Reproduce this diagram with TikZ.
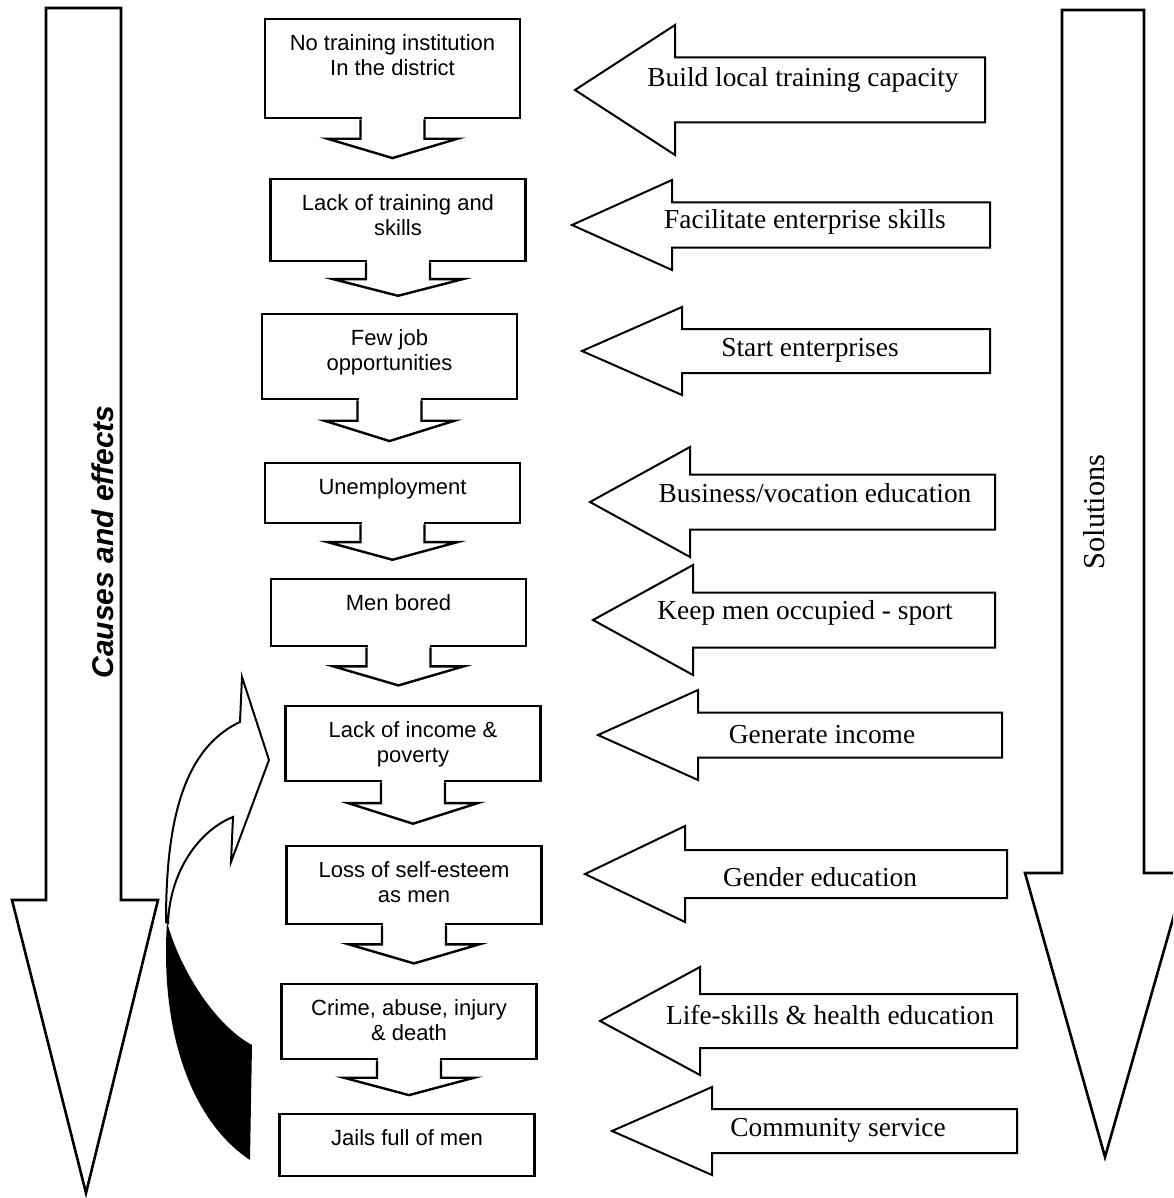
\documentclass[tikz,border=0pt]{standalone}
\usepackage{fontspec}
\setmainfont{Liberation Serif}
\newfontfamily\causefont{Liberation Sans}
\usetikzlibrary{calc,positioning}
\tikzstyle{problem tree}=[
    x=0.5pt,y=-0.5pt,
    every node/.style={
        align=center,
    },
    cause/.style={draw, line width=1.2pt, anchor=north, inner xsep=0pt, inner ysep=7.5pt,
        minimum width=127.5pt, font=\causefont\fontsize{11}{12.5}\selectfont},
    stemline/.style={draw, line width=1.2pt},
    remedy/.style={draw, line width=1pt},
    remedy text/.style={font=\fontsize{13.7}{16}\selectfont},
    big arrow/.style={draw, line width=1.3pt},
]
\newcommand{\causelines}[2]{\parbox[t][#1][t]{125pt}{\centering #2}}
\newcommand{\causestep}[2]{%
    \fill[white] ([shift={(-31,-3)}]#1.south) rectangle ([shift={(31,3)}]#1.south);
    \draw[stemline] let \p1=(#1.south), \p2=($(#1.south)!0.66!(#1.south |- #2.north)$) in
        (\x1-16pt,\y1) -- (\x1-16pt,{(\y1+\y2)/2}) -- (\x1-32.5pt,{(\y1+\y2)/2})
        -- (\x1,\y2) -- (\x1+32.5pt,{(\y1+\y2)/2}) -- (\x1+16pt,{(\y1+\y2)/2}) -- (\x1+16pt,\y1);
}
\newcommand{\remedy}[6]{%
    \draw[remedy] (#2) -- ++(100,-#3) -- ++(0,#3/2) -- ++(#4,0) -- ++(0,#3)
        -- ++(-#4,0) -- ++(0,#3/2) -- cycle;
    \node[remedy text] (#1) at (#5) {#6};
}

\begin{document}
\begin{tikzpicture}[problem tree]
    \useasboundingbox (0,0) rectangle (1173,1198);
    \clip (0,0) rectangle (1173,1198);

    % big arrows at the sides
    \draw[big arrow] (46,8) -- (121,8) -- (121,900) -- (158,900) -- (86,1193)
        -- (12,900) -- (46,900) -- cycle;
    \node[rotate=90, font=\causefont\bfseries\itshape\fontsize{15}{18}\selectfont] (causeslabel) at (103,542) {Causes and effects};
    \draw[big arrow] (1062,10) -- (1144,10) -- (1144,873) -- (1186,873) -- (1105,1157)
        -- (1025,873) -- (1062,873) -- cycle;
    \node[rotate=90, font=\fontsize{15.2}{18}\selectfont] (solutionslabel) at (1094,512) {Solutions};

    % chain of causes
    \node[cause] (notraining) at (392.5,18) {\causelines{34.5pt}{No training institution\\In the district}};
    \node[cause] (lacktraining) at (398,178) {\causelines{26pt}{Lack of training and\\skills}};
    \node[cause] (fewjobs) at (389.5,313) {\causelines{27.5pt}{Few job\\opportunities}};
    \node[cause] (unemployment) at (392.5,462) {\causelines{15pt}{Unemployment}};
    \node[cause] (bored) at (398.5,578) {\causelines{18.5pt}{Men bored}};
    \node[cause] (poverty) at (413,705) {\causelines{22.5pt}{Lack of income \&\\poverty}};
    \node[cause] (esteem) at (414,845) {\causelines{24pt}{Loss of self-esteem\\as men}};
    \node[cause] (crime) at (409,983) {\causelines{22.5pt}{Crime, abuse, injury\\\& death}};
    \node[cause] (jails) at (407,1113) {\causelines{16pt}{Jails full of men}};

    \causestep{notraining}{lacktraining}
    \causestep{lacktraining}{fewjobs}
    \causestep{fewjobs}{unemployment}
    \causestep{unemployment}{bored}
    \causestep{bored}{poverty}
    \causestep{poverty}{esteem}
    \causestep{esteem}{crime}
    \causestep{crime}{jails}

    % solutions
    \remedy{build}{575,90}{65}{310}{803,80}{Build local training capacity}
    \remedy{facilitate}{572,225}{45}{318}{805,222}{Facilitate enterprise skills}
    \remedy{start}{582,351}{44}{308}{810,350}{Start enterprises}
    \remedy{business}{590,502}{55}{305}{815,493}{Business/vocation education}
    \remedy{keepbusy}{593,620}{55}{302}{805,613}{Keep men occupied - sport}
    \remedy{income}{598,735}{45}{304}{822,735}{Generate income}
    \remedy{gender}{585,874}{48}{322}{820,877}{Gender education}
    \remedy{lifeskills}{600,1021}{54}{317}{830,1015}{Life-skills \& health education}
    \remedy{service}{612,1131}{44}{305}{838,1130}{Community service}

    % feedback loop
    \fill[black] (167,922) .. controls (160,1030) and (190,1120) .. (250,1160)
        -- (252,1045) .. controls (215,1025) and (180,970) .. (167,922) -- cycle;
    \draw[line width=1pt, fill=white] (166,922) .. controls (166,830) and (180,750) .. (240,722)
        -- (242,677) -- (269,760) -- (231,862) -- (233,817)
        .. controls (200,830) and (170,870) .. (168,923) -- cycle;
\end{tikzpicture}
\end{document}
